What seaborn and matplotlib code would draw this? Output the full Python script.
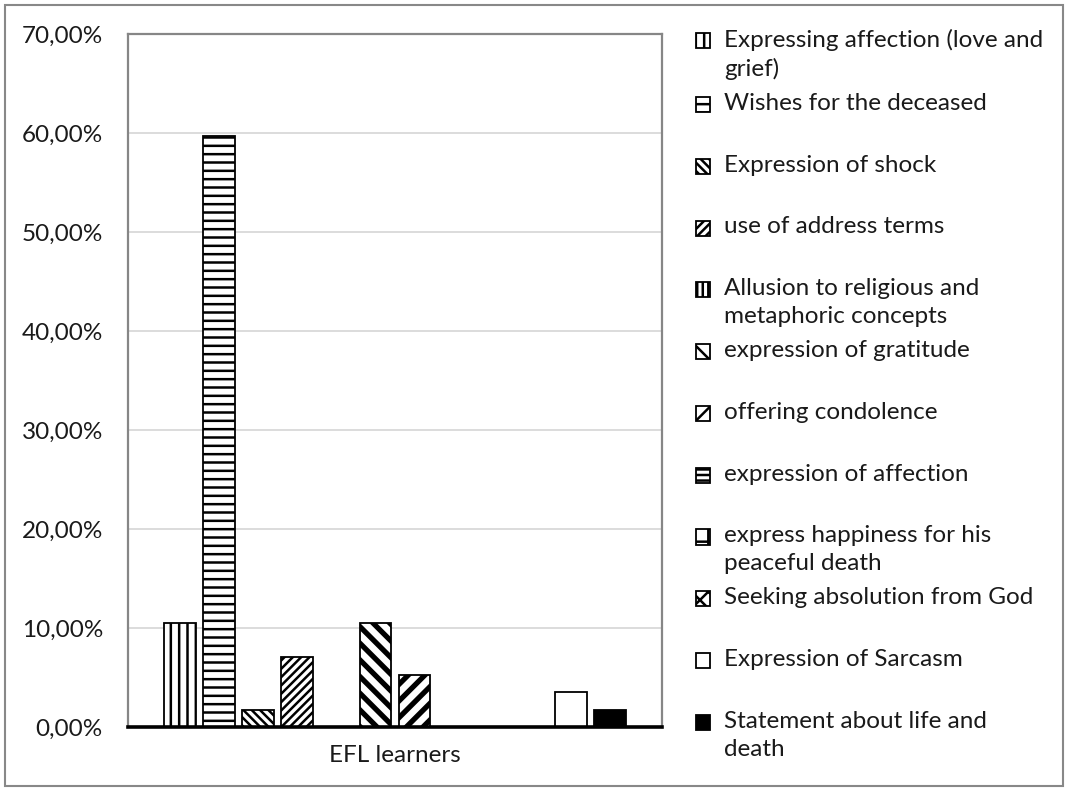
import matplotlib
matplotlib.use("Agg")
import matplotlib.pyplot as plt
from matplotlib.patches import Rectangle
from matplotlib.legend_handler import HandlerPatch
from matplotlib.ticker import FuncFormatter
import seaborn as sns
import pandas as pd

# data (percent of responses)
groups = ["EFL learners"]
categories = [
    "Expressing affection (love and grief)",
    "Wishes for the deceased",
    "Expression of shock",
    "use of address terms",
    "Allusion to religious and metaphoric concepts",
    "expression of gratitude",
    "offering condolence",
    "expression of affection",
    "express happiness for his peaceful death",
    "Seeking absolution from God",
    "Expression of Sarcasm",
    "Statement about life and death",
]
legend_labels = [
    "Expressing affection (love and\ngrief)",
    "Wishes for the deceased\n ",
    "Expression of shock\n ",
    "use of address terms\n ",
    "Allusion to religious and\nmetaphoric concepts",
    "expression of gratitude\n ",
    "offering condolence\n ",
    "expression of affection\n ",
    "express happiness for his\npeaceful death",
    "Seeking absolution from God\n ",
    "Expression of Sarcasm\n ",
    "Statement about life and\ndeath",
]
values = [10.53, 59.65, 1.75, 7.02, 0.0, 10.53, 5.26, 0.0, 0.0, 0.0, 3.51, 1.75]
yticks = [0, 10, 20, 30, 40, 50, 60, 70]

hatches = ["||", "--", "\\\\\\\\", "////", "|||", "\\\\", "//", "---", "+", "xx", "", ""]
fills = ["white"] * 11 + ["black"]

df = pd.DataFrame({"group": groups * len(categories), "category": categories, "value": values})

sns.set_style("white")
plt.rcParams["font.family"] = ["Lato", "DejaVu Sans"]
plt.rcParams["hatch.linewidth"] = 1.8
plt.rcParams["hatch.color"] = "black"
FS = 17.5

fig = plt.figure(figsize=(10.69, 7.91), dpi=100)
ax = fig.add_axes([0.1197, 0.081, 0.4995, 0.876])

sns.barplot(data=df, x="group", y="value", hue="category", hue_order=categories,
            palette=dict(zip(categories, fills)), edgecolor="black", linewidth=1.3,
            width=0.878, gap=0.19, saturation=1, legend=False, ax=ax)

for cont, h in zip(ax.containers, hatches):
    for bar in cont.patches:
        bar.set_hatch(h)
        if h in ("\\\\", "//") and hasattr(bar, "set_hatch_linewidth"):
            bar.set_hatch_linewidth(3.8)

ax.set_ylim(0, 70)
ax.set_xlim(-0.5, 0.5)
ax.set_yticks(yticks)
ax.yaxis.set_major_formatter(FuncFormatter(lambda v, p: f"{v:.2f}%".replace(".", ",")))
ax.yaxis.grid(True, color="#d9d9d9", lw=1.3)
ax.set_axisbelow(True)
ax.set_xlabel("")
ax.set_ylabel("")

for s in ax.spines.values():
    s.set_visible(True)
    s.set_color("#868686")
    s.set_linewidth(1.6)
ax.spines["bottom"].set_color("black")
ax.spines["bottom"].set_linewidth(2.6)
ax.spines["bottom"].set_zorder(5)

ax.set_xticks([-0.5, 0.5], minor=True)
ax.tick_params(axis="x", which="minor", length=7, width=2, color="black", direction="out")
ax.tick_params(axis="x", which="major", length=0, pad=13, labelsize=FS, labelcolor="#1a1a1a")
ax.tick_params(axis="y", length=0, pad=18, labelsize=FS, labelcolor="#1a1a1a")


def shifted_box(legend, orig_handle, xdescent, ydescent, width, height, fontsize):
    # drop the key a little so it sits on the first text line
    return Rectangle((-xdescent, -ydescent - 0.17 * fontsize), width, height)


handles = [cont.patches[0] for cont in ax.containers]
leg = fig.legend(handles, legend_labels, loc="upper left", bbox_to_anchor=(0.651, 0.964),
                 frameon=False, fontsize=FS, handlelength=0.58, handleheight=0.58,
                 handletextpad=0.58, labelspacing=0.52, borderpad=0, borderaxespad=0,
                 handler_map={Rectangle: HandlerPatch(patch_func=shifted_box)})
for t in leg.get_texts():
    t.set_linespacing(1.42)
    t.set_color("#1a1a1a")
for col in leg._legend_handle_box.get_children():
    for row in col.get_children():
        row.align = "top"

fig.add_artist(Rectangle((0.005, 0.006), 0.989, 0.988, transform=fig.transFigure,
                         fill=False, edgecolor="#888888", lw=1.5))

fig.savefig("out.png", dpi=100)
